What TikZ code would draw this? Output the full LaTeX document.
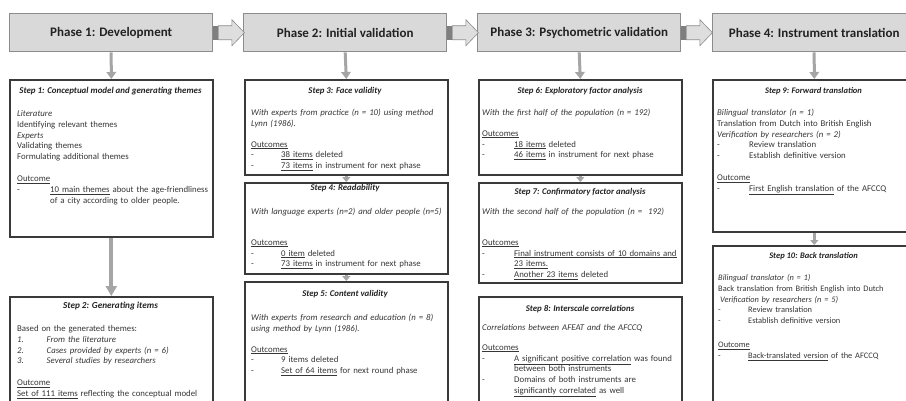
\documentclass[tikz,border=0pt]{standalone}
\usepackage{fontspec}
\setmainfont{Carlito}
\usetikzlibrary{arrows.meta}

\definecolor{phasefill}{HTML}{D9D9D9}
\definecolor{phaseline}{HTML}{8C8C8C}
\definecolor{flowdark}{HTML}{7F7F7F}
\definecolor{flowlight}{HTML}{DEDEDE}
\definecolor{downgray}{HTML}{A5A5A5}
\definecolor{stepline}{HTML}{3A3A3A}
\definecolor{bodytext}{HTML}{363636}
\definecolor{titletext}{HTML}{222222}

% dash item with a tab, continuation line, numbered item, underline
\newcommand\di[2][32pt]{\makebox[#1][l]{-}#2}
\newcommand\ci[2][32pt]{\hspace*{#1}#2}
\newcommand\numi[2]{\makebox[29.5pt][l]{\textit{#1}}#2}
\newcommand\uln[1]{\underline{#1}}

\begin{document}
\begin{tikzpicture}[x=1pt,y=-1pt,
  phase/.style={draw=phaseline, fill=phasefill, line width=1.4pt,
    minimum width=203pt, minimum height=38pt, anchor=north west,
    inner sep=0pt, font=\fontsize{13}{15}\selectfont\bfseries, text=titletext},
  stepbox/.style={draw=stepline, line width=1.6pt, anchor=north west,
    minimum width=203pt, inner sep=0pt},
  steptitle/.style={anchor=base, inner sep=0pt, text=titletext,
    font=\fontsize{#1}{10.9}\selectfont\bfseries\itshape},
  steptitle/.default=8.5,
  stepbody/.style={anchor=north west, inner sep=0pt, yshift=7.63pt,
    text width=198pt, align=left, text=bodytext,
    font=\fontsize{#1}{10.9}\selectfont, execute at begin node=\strut},
  stepbody/.default=8.5,
  downflow/.style={draw=downgray, line width=3pt,
    -{Triangle[width=9.5pt,length=7pt]}},
  stepflow/.style={draw=downgray, line width=3pt,
    -{Triangle[width=8pt,length=5pt]}},
  bigflow/.style={draw=downgray, line width=4pt,
    -{Triangle[width=11pt,length=10pt]}},
  flowbody/.style={fill=flowlight, draw=phaseline, line width=0.6pt},
]
\path[use as bounding box, clip] (0,0) rectangle (906,400);
\fill[white] (0,0) rectangle (906,400);

% phase headers
\node[phase] (p1) at (9,13)   {Phase 1: Development};
\node[phase] (p2) at (243,13) {Phase 2: Initial validation};
\node[phase] (p3) at (477,13) {Phase 3: Psychometric validation};
\node[phase] (p4) at (712,13) {Phase 4: Instrument translation};

% block arrows between phases
\foreach \a in {p1,p2,p3}{
  \fill[flowdark] (\a.east) ++(0,-7) rectangle ++(5,14);
  \draw[flowbody] (\a.east) ++(5,-7) -- ++(13.5,0) -- ++(0,-6) -- ++(12.5,13)
    -- ++(-12.5,13) -- ++(0,-6) -- ++(-13.5,0) -- cycle;
}

% step boxes
\node[stepbox, minimum height=157pt] (s1)  at (9,79)    {};
\node[stepbox, minimum height=130pt] (s2)  at (9,296)   {};
\node[stepbox, minimum height=95pt]  (s3)  at (244,79)  {};
\node[stepbox, minimum height=91pt]  (s4)  at (244,182) {};
\node[stepbox, minimum height=130pt] (s5)  at (244,281) {};
\node[stepbox, minimum height=95pt]  (s6)  at (478,79)  {};
\node[stepbox, minimum height=100pt] (s7)  at (478,182) {};
\node[stepbox, minimum height=130pt] (s8)  at (478,296) {};
\node[stepbox, minimum height=152pt] (s9)  at (712,79)  {};
\node[stepbox, minimum height=170pt] (s10) at (712,245) {};

% connectors
\draw[downflow] (p1.south) -- (s1.north);
\draw[downflow] (p2.south) -- (s3.north);
\draw[downflow] (p3.south) -- (s6.north);
\draw[downflow] (p4.south) -- (s9.north);
\draw[bigflow]  (s1.south) -- (s2.north);
\draw[stepflow] (s3.south) -- (s4.north);
\draw[stepflow] (s4.south) -- (s5.north);
\draw[stepflow] (s6.south) -- (s7.north);
\draw[stepflow] (s9.south) -- (s10.north);

% Step 1
\node[steptitle=8.9] (t1) at (110.5,93) {Step 1: Conceptual model and generating themes};
\node[stepbody=8.8] (b1) at (17,116) {\textit{Literature}\\
Identifying relevant themes\\
\textit{Experts}\\
Validating themes\\
Formulating additional themes\\[10.9pt]
\uln{Outcome}\\
\di[33pt]{\uln{10 main themes} about the age-friendliness}\\
\ci[33pt]{of a city according to older people.}};

% Step 2
\node[steptitle=9.2] (t2) at (110.5,308.5) {Step 2: Generating items};
\node[stepbody=8.8] (b2) at (17,331) {Based on the generated themes:\\
\numi{1.}{\textit{From the literature}}\\
\numi{2.}{\textit{Cases provided by experts (n = 6)}}\\
\numi{3.}{\textit{Several studies by researchers}}\\[10.9pt]
\uln{Outcome}\\
\uln{Set of 111 items} reflecting the conceptual model};

% Step 3
\node[steptitle=8.8] (t3) at (345,93) {Step 3: Face validity};
\node[stepbody=8.8] (b3) at (251,115.5) {\textit{With experts from practice (n = 10) using method}\\
\textit{Lynn (1986).}\\[9.5pt]
\uln{Outcomes}\\
\di[30pt]{\uln{38 items} deleted}\\
\di[30pt]{\uln{73 items} in instrument for next phase}};

% Step 4
\node[steptitle=8.8] (t4) at (345,190.5) {Step 4: Readability};
\node[stepbody=8.8] (b4) at (251,214) {\textit{With language experts (n=2) and older people (n=5)}\\[20pt]
\uln{Outcomes}\\
\di[30pt]{\uln{0 item} deleted}\\
\di[30pt]{\uln{73 items} in instrument for next phase}};

% Step 5
\node[steptitle=8.8] (t5) at (345,296) {Step 5: Content validity};
\node[stepbody=8.8] (b5) at (251,320) {\textit{With experts from research and education (n = 8)}\\
\textit{using method by Lynn (1986).}\\[10pt]
\uln{Outcomes}\\
\di[30pt]{9 items deleted}\\
\di[30pt]{\uln{Set of 64 items} for next round phase}};

% Step 6
\node[steptitle=8.8] (t6) at (580,93) {Step 6: Exploratory factor analysis};
\node[stepbody=8.8] (b6) at (482,115) {\textit{With the first half of the population (n = 192)}\\[10pt]
\uln{Outcomes}\\
\di{\uln{18 items} deleted}\\
\di{\uln{46 items} in instrument for next phase}};

% Step 7
\node[steptitle=8.8] (t7) at (580,194) {Step 7: Confirmatory factor analysis};
\node[stepbody=8.8] (b7) at (482,214) {\textit{With the second half of the population (n =~~192)}\\[20pt]
\uln{Outcomes}\\
\di{\uln{Final instrument consists of 10 domains and}}\\
\ci{\uln{23 items.}}\\
\di{\uln{Another 23 items} deleted}};

% Step 8
\node[steptitle=8.8] (t8) at (580,311.5) {Step 8: Interscale correlations};
\node[stepbody=8.8] (b8) at (482,330) {\textit{Correlations between AFEAT and the AFCCQ}\\[9pt]
\uln{Outcomes}\\
\di{\uln{A significant positive correlation} was found}\\
\ci{between both instruments}\\
\di{Domains of both instruments are}\\
\ci{\uln{significantly correlated} as well}};

% Step 9
\node[steptitle=8.5] (t9) at (813.5,93) {Step 9: Forward translation};
\node[stepbody=8.8] (b9) at (717,115) {\textit{Bilingual translator (n = 1)}\\
Translation from Dutch into British English\\
\textit{Verification by researchers (n = 2)}\\
\di{Review translation}\\
\di{Establish definitive version}\\[10.9pt]
\uln{Outcome}\\
\di{\uln{First English translation} of the AFCCQ}};

% Step 10
\node[steptitle=8.5] (t10) at (813.5,258.5) {Step 10: Back translation};
\node[stepbody=8.4] (b10) at (718,280) {\textit{Bilingual translator (n = 1)}\\
Back translation from British English into Dutch\\
\hspace*{2pt}\textit{Verification by researchers (n = 5)}\\
\di[30pt]{Review translation}\\
\di[30pt]{Establish definitive version}\\[13pt]
\uln{Outcome}\\
\di[30pt]{\uln{Back-translated version} of the AFCCQ}};
\end{tikzpicture}
\end{document}
